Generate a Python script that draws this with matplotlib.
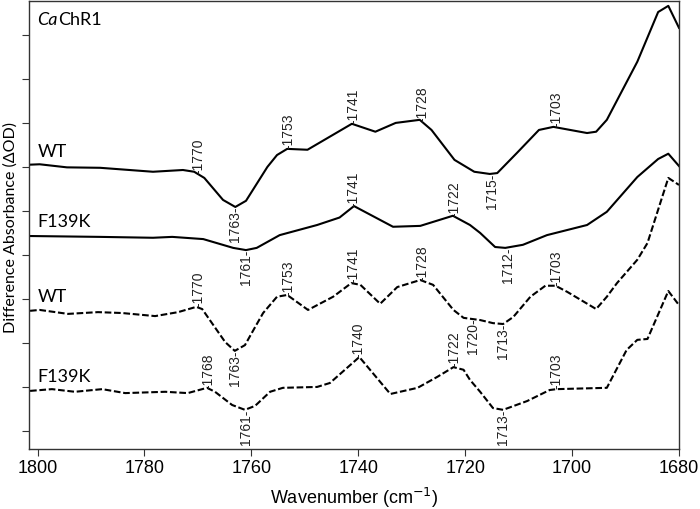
import numpy as np
import matplotlib
matplotlib.use('Agg')
import matplotlib.pyplot as plt

# FTIR difference spectra, CaChR1 WT and F139K (solid and dashed sets)

wn_wt1 = [1801.6, 1799.6, 1794.5, 1788.3, 1778.4, 1772.8, 1770.7, 1768.8, 1765.3, 1763.0,
          1761.0, 1757.0, 1755.2, 1753.3, 1749.5, 1741.2, 1736.8, 1733.0, 1728.5, 1726.3,
          1722.0, 1718.3, 1715.4, 1714.0, 1710.3, 1706.2, 1703.5, 1697.2, 1695.5, 1693.5,
          1687.8, 1683.9, 1682.0, 1680.0]
wt1 = [6.05, 6.06, 5.99, 5.98, 5.89, 5.93, 5.89, 5.75, 5.25, 5.09,
       5.23, 6.00, 6.27, 6.41, 6.39, 6.98, 6.80, 7.00, 7.07, 6.84,
       6.16, 5.89, 5.84, 5.86, 6.32, 6.84, 6.91, 6.77, 6.80, 7.07,
       8.39, 9.52, 9.66, 9.16]

wn_f1 = [1801.6, 1788.3, 1778.4, 1774.8, 1769.0, 1763.4, 1761.0, 1759.0, 1754.7, 1747.7,
         1743.5, 1740.8, 1733.5, 1728.4, 1722.3, 1719.1, 1717.2, 1714.4, 1712.5, 1709.2,
         1704.7, 1697.2, 1693.5, 1687.8, 1683.9, 1682.0, 1680.0]
f1 = [4.43, 4.41, 4.39, 4.41, 4.36, 4.16, 4.11, 4.16, 4.45, 4.68,
      4.85, 5.11, 4.64, 4.66, 4.89, 4.68, 4.50, 4.18, 4.16, 4.23,
      4.45, 4.68, 4.98, 5.77, 6.18, 6.30, 6.02]

wn_wt2 = [1801.4, 1799.6, 1794.3, 1788.7, 1784.2, 1778.0, 1773.7, 1770.3, 1769.2, 1764.9,
          1763.1, 1761.2, 1759.3, 1757.8, 1755.2, 1753.3, 1749.4, 1744.7, 1741.3, 1739.6,
          1735.9, 1732.7, 1728.4, 1726.0, 1722.2, 1720.3, 1717.2, 1714.8, 1712.9, 1711.0,
          1707.8, 1705.0, 1703.1, 1700.9, 1695.5, 1693.5, 1691.6, 1687.8, 1685.9, 1682.0,
          1680.0]
wt2 = [2.73, 2.75, 2.66, 2.70, 2.68, 2.61, 2.70, 2.82, 2.77, 2.02,
       1.82, 1.95, 2.36, 2.68, 3.05, 3.09, 2.75, 3.05, 3.36, 3.32,
       2.89, 3.27, 3.43, 3.32, 2.75, 2.57, 2.52, 2.45, 2.43, 2.59,
       3.05, 3.30, 3.30, 3.16, 2.77, 3.05, 3.36, 3.89, 4.27, 5.75,
       5.59]

wn_f2 = [1801.4, 1797.3, 1793.0, 1787.9, 1783.6, 1776.1, 1771.9, 1768.3, 1766.8, 1763.6,
         1761.2, 1759.3, 1756.5, 1754.1, 1747.7, 1745.3, 1739.8, 1734.0, 1728.9, 1725.2,
         1722.2, 1720.3, 1719.1, 1717.2, 1714.8, 1712.9, 1708.4, 1704.2, 1702.9, 1693.5,
         1689.8, 1687.8, 1685.9, 1682.0, 1680.0]
f2 = [0.91, 0.95, 0.89, 0.95, 0.86, 0.89, 0.86, 0.98, 0.89, 0.59,
      0.48, 0.57, 0.89, 0.98, 1.00, 1.09, 1.68, 0.84, 0.98, 1.23,
      1.45, 1.39, 1.16, 0.89, 0.52, 0.48, 0.68, 0.93, 0.95, 0.98,
      1.84, 2.07, 2.09, 3.18, 2.86]

# peak labels: (value, above?) per trace
peaks_wt1 = [(1770, True), (1763, False), (1753, True), (1741, True), (1728, True),
             (1715, False), (1703, True)]
peaks_f1 = [(1761, False), (1741, True), (1722, True), (1712, False)]
peaks_wt2 = [(1770, True), (1763, False), (1753, True), (1741, True), (1728, True),
             (1720, False), (1713, False), (1703, True)]
peaks_f2 = [(1768, True), (1761, False), (1740, True), (1722, True), (1713, False),
            (1703, True)]

names = ['WT', 'F139K', 'WT', 'F139K']
name_y = [6.34, 4.75, 3.05, 1.22]

fig = plt.figure(figsize=(7, 5.09), dpi=100)
ax = fig.add_axes([0.0414, 0.1179, 0.9286, 0.8801])

sets = [(wn_wt1, wt1, peaks_wt1, '-'), (wn_f1, f1, peaks_f1, '-'),
        (wn_wt2, wt2, peaks_wt2, '--'), (wn_f2, f2, peaks_f2, '--')]

for k, (wn, vals, peaks, ls) in enumerate(sets):
    line, = ax.plot(wn, vals, color='black', lw=1.5, ls=ls)
    if ls == '--':
        line.set_dashes((3.2, 1.3))
    xs = np.array(wn)[::-1]
    ys = np.array(vals)[::-1]
    for p, up in peaks:
        yp = np.interp(p, xs, ys)
        txt = '-%d' % p if up else '%d-' % p
        # the 1720 label on the dashed WT sits a bit to the right in the original
        nudge = 1.4 if (k == 2 and p == 1720) else 0
        ax.text(p - nudge, yp, txt, rotation=90, ha='center',
                va='bottom' if up else 'top', fontsize=10,
                family='Liberation Sans', color='#222222')

for n, y in zip(names, name_y):
    ax.text(1800, y, n, fontsize=13, family='Lato', ha='left', va='center')

t1 = ax.text(1800, 9.34, 'Ca', fontsize=13, family='Lato', style='italic',
             ha='left', va='center')
ax.annotate('ChR1', xy=(1, 0), xycoords=t1, fontsize=13, family='Lato',
            ha='left', va='bottom')

ax.set_xlim(1801.6, 1680)
ax.set_ylim(-0.41, 9.77)
ax.set_xticks([1800, 1780, 1760, 1740, 1720, 1700, 1680])
ax.set_yticks(range(10))
ax.set_yticklabels([])
ax.tick_params(axis='x', labelsize=13, length=5, color='#333333', pad=3)
ax.tick_params(axis='y', length=5, color='#333333')
for lab in ax.get_xticklabels():
    lab.set_family('Liberation Sans')
for s in ax.spines.values():
    s.set_color('#333333')
    s.set_linewidth(1.0)

ax.set_xlabel('Wavenumber (cm$^{-1}$)', fontsize=13, family='Liberation Sans', labelpad=6)
ax.set_ylabel('Difference Absorbance (\u0394OD)', fontsize=11.5, family='Lato')
ax.yaxis.set_label_coords(-0.017, 0.495)

fig.savefig('out.png', dpi=100)
